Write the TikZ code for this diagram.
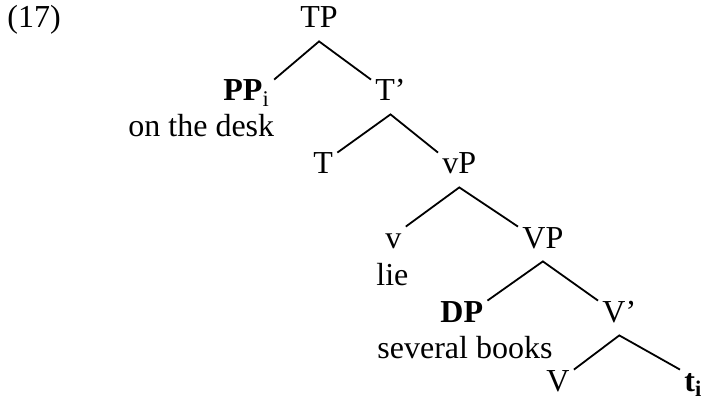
\documentclass[tikz,border=0pt]{standalone}
\usepackage{fontspec}
\setmainfont{Liberation Serif}
\usepackage{tikz}

\tikzset{
  lab/.style={inner xsep=2pt,inner ysep=0pt,text height=10.5pt,text depth=6.5pt,anchor=base west},
  leaf/.style={lab,text depth=2.5pt},
  word/.style={inner sep=0pt,anchor=base west},
  branch/.style={line width=0.9pt}
}

\begin{document}
\begin{tikzpicture}[x=0.5pt,y=-0.5pt,font=\fontsize{16}{19}\selectfont]
        \useasboundingbox (0,0) rectangle (704,400);
        \node[word] (ex) at (7,28) {(17)};
        \node[lab] (TP) at (296,28) {TP};
        \node[lab] (PP) at (219,101) {\textbf{PP}\textsubscript{i}};
        \node[word] (PPw) at (128,137) {on the desk};
        \node[lab] (Tbar) at (371,101) {T’};
        \node[lab] (T) at (309,174) {T};
        \node[lab] (vP) at (438,174) {vP};
        \node[lab] (v) at (381,248) {v};
        \node[word] (vw) at (376,285) {lie};
        \node[lab] (VP) at (518,248) {VP};
        \node[lab] (DP) at (436,322) {\textbf{DP}};
        \node[word] (DPw) at (377,358) {several books};
        \node[lab] (Vbar) at (598,322) {V’};
        \node[leaf] (V) at (542,391) {V};
        \node[leaf] (t) at (680,391) {\textbf{t\textsubscript{i}}};
        \draw[branch] (PP.north east) -- (TP.south) -- (Tbar.north west);
        \draw[branch] (T.north east) -- (Tbar.south) -- (vP.north west);
        \draw[branch] (v.north east) -- (vP.south) -- (VP.north west);
        \draw[branch] (DP.north east) -- (VP.south) -- (Vbar.north west);
        \draw[branch] (V.north east) -- (Vbar.south) -- (t.north west);
      \end{tikzpicture}
\end{document}
